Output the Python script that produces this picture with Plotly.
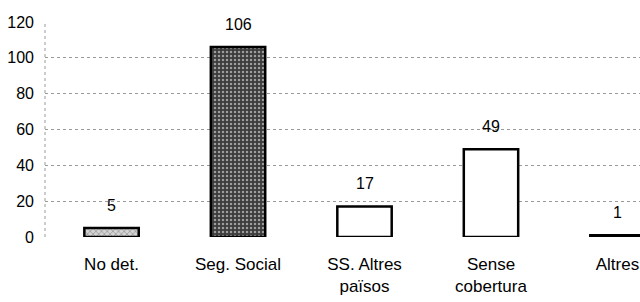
import plotly.graph_objects as go

categories = ["No det.", "Seg. Social", "SS. Altres<br>països", "Sense<br>cobertura", "Altres"]
values = [5, 106, 17, 49, 1]
y_ticks = [0, 20, 40, 60, 80, 100, 120]

fill_colors = ["#d4d4d4", "#3c3c3c", "white", "white", "white"]
pattern_shapes = ["x", ".", "", "", ""]
pattern_fg = ["#555555", "#a0a0a0", "black", "black", "black"]

FONT = "Liberation Sans, Arial, sans-serif"

fig = go.Figure()
fig.add_trace(go.Bar(
    x=list(range(len(categories))),
    y=values,
    width=0.43,
    marker=dict(
        color=fill_colors,
        line=dict(color="black", width=2.5),
        pattern=dict(shape=pattern_shapes, fgcolor=pattern_fg, size=4, solidity=0.3),
    ),
    showlegend=False,
    hoverinfo="skip",
))

for i, v in enumerate(values):
    fig.add_annotation(x=i, y=v, text=str(v), showarrow=False, yshift=23,
                       font=dict(family=FONT, size=16, color="black"))

# dotted vertical axis line on the left edge of the plot area
fig.add_shape(type="line", xref="x domain", yref="y domain", x0=0, x1=0, y0=0, y1=1,
              line=dict(color="#9a9a9a", width=1, dash="dot"))

fig.update_layout(
    width=640, height=302,
    margin=dict(l=45, r=0, t=22, b=65),
    paper_bgcolor="white", plot_bgcolor="white",
    font=dict(family=FONT, size=16, color="black"),
)
fig.update_xaxes(
    range=[-0.526, 4.178],
    tickmode="array", tickvals=list(range(len(categories))), ticktext=categories,
    showgrid=False, zeroline=False, showline=False, ticks="",
    ticklabelstandoff=15, automargin=False,
    tickfont=dict(family=FONT, size=17),
)
fig.update_yaxes(
    range=[0, 120],
    tickmode="array", tickvals=y_ticks,
    showgrid=True, gridcolor="#9a9a9a", griddash="dot", gridwidth=1,
    zeroline=False, showline=False, ticks="",
    ticklabelstandoff=10, automargin=False,
    tickfont=dict(family=FONT, size=16),
)

fig.write_html("out.html", config={"displayModeBar": False},
               post_script="document.body.style.margin='0';")
